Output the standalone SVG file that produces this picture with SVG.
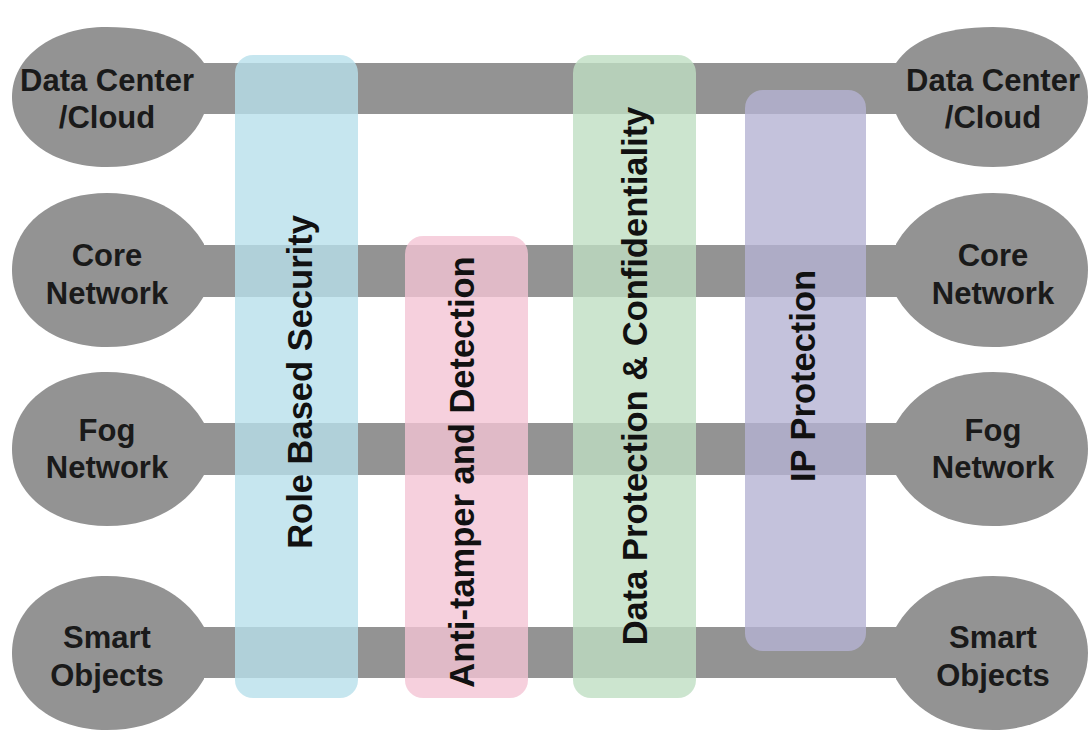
<svg xmlns="http://www.w3.org/2000/svg" xmlns:xlink="http://www.w3.org/1999/xlink" width="1091" height="731" viewBox="0 0 1091 731">
<style>
.bar{fill:#939393}
.blob{fill:#939393}
.lbl{font-family:"Liberation Sans",Arial,sans-serif;font-weight:bold;font-size:31px;fill:#1a1a1a;text-anchor:middle}
.vl{font-family:"Liberation Sans",Arial,sans-serif;font-weight:bold;font-size:34.5px;fill:#111;text-anchor:middle}
.band{opacity:0.8}
</style>
<defs>
<path id="blob" d="M 97,-26 C 82,-52 52,-77 0,-77 C -55,-77 -95,-45 -95,0 C -95,45 -55,77 0,77 C 52,77 82,52 97,26 Z"/>
<path id="blob1" d="M 97,-34 C 82,-56 52,-70 0,-70 C -55,-70 -95,-40 -95,0 C -95,40 -55,70 0,70 C 52,70 85,46 97,17 Z"/>
</defs>
<rect width="1091" height="731" fill="#ffffff"/>
<g id="connectors">
<rect class="bar" x="100" y="63" width="895" height="51"/>
<rect class="bar" x="100" y="245" width="895" height="52"/>
<rect class="bar" x="100" y="423" width="895" height="52"/>
<rect class="bar" x="100" y="627" width="895" height="51"/>
</g>
<g id="dc-left">
<use href="#blob1" class="blob" transform="translate(107,97)"/>
<text class="lbl" x="107" y="91">Data Center</text>
<text class="lbl" x="107" y="128">/Cloud</text>
</g>
<g id="dc-right">
<use href="#blob1" class="blob" transform="translate(993,97) scale(-1,1)"/>
<text class="lbl" x="993" y="91">Data Center</text>
<text class="lbl" x="993" y="128">/Cloud</text>
</g>
<g id="core-left">
<use href="#blob" class="blob" transform="translate(107,270)"/>
<text class="lbl" x="107" y="266">Core</text>
<text class="lbl" x="107" y="304">Network</text>
</g>
<g id="core-right">
<use href="#blob" class="blob" transform="translate(993,270) scale(-1,1)"/>
<text class="lbl" x="993" y="266">Core</text>
<text class="lbl" x="993" y="304">Network</text>
</g>
<g id="fog-left">
<use href="#blob" class="blob" transform="translate(107,449)"/>
<text class="lbl" x="107" y="441">Fog</text>
<text class="lbl" x="107" y="478">Network</text>
</g>
<g id="fog-right">
<use href="#blob" class="blob" transform="translate(993,449) scale(-1,1)"/>
<text class="lbl" x="993" y="441">Fog</text>
<text class="lbl" x="993" y="478">Network</text>
</g>
<g id="smart-left">
<use href="#blob" class="blob" transform="translate(107,653)"/>
<text class="lbl" x="107" y="648">Smart</text>
<text class="lbl" x="107" y="686">Objects</text>
</g>
<g id="smart-right">
<use href="#blob" class="blob" transform="translate(993,653) scale(-1,1)"/>
<text class="lbl" x="993" y="648">Smart</text>
<text class="lbl" x="993" y="686">Objects</text>
</g>
<g id="role-based-security">
<rect class="band" x="235" y="55" width="123" height="643" rx="18" fill="#b8e0eb"/>
<text class="vl" transform="translate(312,382) rotate(-90)">Role Based Security</text>
</g>
<g id="anti-tamper">
<rect class="band" x="405" y="236" width="123" height="462" rx="18" fill="#f4c4d4"/>
<text class="vl" transform="translate(474,472) rotate(-90)">Anti-tamper and Detection</text>
</g>
<g id="data-protection">
<rect class="band" x="573" y="55" width="123" height="643" rx="18" fill="#bfdfc3"/>
<text class="vl" transform="translate(647,376) rotate(-90)">Data Protection &amp; Confidentiality</text>
</g>
<g id="ip-protection">
<rect class="band" x="745" y="90" width="121" height="561" rx="18" fill="#b5b3d3"/>
<text class="vl" transform="translate(815,376) rotate(-90)">IP Protection</text>
</g>
</svg>
